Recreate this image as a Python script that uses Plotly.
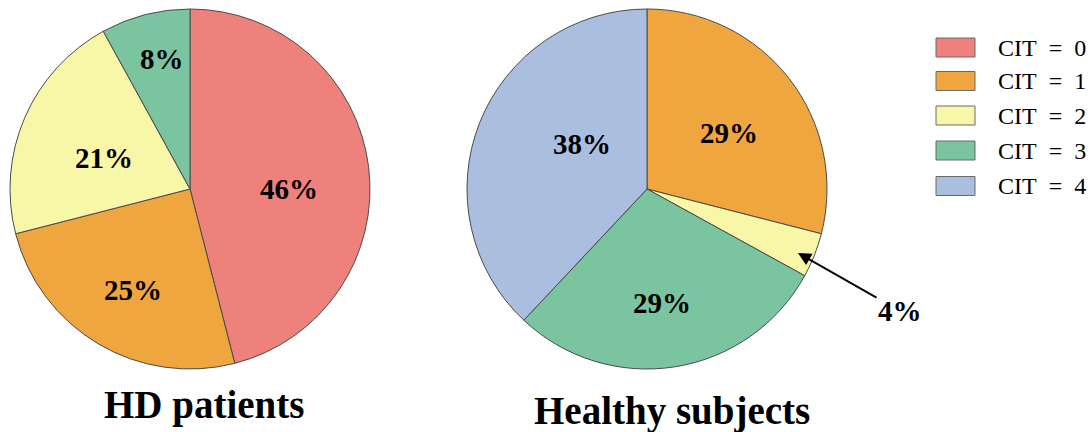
import plotly.graph_objects as go

W, H = 1091, 432
SERIF = "Liberation Serif"

categories = ["CIT = 0", "CIT = 1", "CIT = 2", "CIT = 3", "CIT = 4"]
colors = ["#EF817C", "#F0A63E", "#F8F6A7", "#7BC4A0", "#AABEE0"]

hd_labels = ["CIT = 0", "CIT = 1", "CIT = 2", "CIT = 3"]
hd_values = [46, 25, 21, 8]

healthy_labels = ["CIT = 1", "CIT = 2", "CIT = 3", "CIT = 4"]
healthy_values = [29, 4, 29, 38]

# label placement (pixel positions of the percentage texts, layout only)
hd_label_pos = [(289, 189), (133, 290), (104, 158), (162, 59)]
healthy_label_pos = [(729, 133), None, (662, 303), (582, 144)]

cmap = dict(zip(categories, colors))

fig = go.Figure()

def add_pie(labels, values, x0, x1, label_pos):
    fig.add_trace(go.Pie(
        labels=labels, values=values, sort=False, direction="clockwise", rotation=0,
        marker=dict(colors=[cmap[l] for l in labels], line=dict(color="#4a4a4a", width=1)),
        textinfo="none",
        domain=dict(x=[x0 / W, x1 / W], y=[1 - 369 / H, 1 - 9 / H]),
        showlegend=False, hoverinfo="label+value",
    ))
    for v, pos in zip(values, label_pos):
        if pos is None:
            continue
        fig.add_annotation(x=pos[0] / W, y=1 - pos[1] / H, xref="paper", yref="paper",
                           showarrow=False, text=f"<b>{v}%</b>",
                           xanchor="center", yanchor="middle",
                           font=dict(family=SERIF, size=29, color="black"))

add_pie(hd_labels, hd_values, 10, 370, hd_label_pos)
add_pie(healthy_labels, healthy_values, 467, 827, healthy_label_pos)

# arrow label for the small slice
hx, hy = 798, 253
fig.add_annotation(
    x=hx / W, y=1 - hy / H, xref="paper", yref="paper",
    text=f"<b>{healthy_values[1]}%</b>", showarrow=True,
    ax=102, ay=58, arrowhead=2, arrowsize=1.3, arrowwidth=2, arrowcolor="black",
    font=dict(family=SERIF, size=29, color="black"),
)

# titles
fig.add_annotation(x=204 / W, y=1 - 405 / H, xref="paper", yref="paper", showarrow=False,
                   text="<b>HD patients</b>", font=dict(family=SERIF, size=39, color="black"),
                   xanchor="center", yanchor="middle")
fig.add_annotation(x=672 / W, y=1 - 411 / H, xref="paper", yref="paper", showarrow=False,
                   text="<b>Healthy subjects</b>", font=dict(family=SERIF, size=39, color="black"),
                   xanchor="center", yanchor="middle")

# legend (manual)
row_y = [47.5, 81, 115.5, 150.5, 186]
for i, (cat, col) in enumerate(zip(categories, colors)):
    cy = row_y[i]
    fig.add_shape(type="rect", xref="paper", yref="paper",
                  x0=936 / W, x1=975 / W, y0=1 - (cy - 9.5) / H, y1=1 - (cy + 9.5) / H,
                  fillcolor=col, line=dict(color="#6a6a6a", width=1))
    fig.add_annotation(x=996 / W, y=1 - cy / H, xref="paper", yref="paper", showarrow=False,
                       text=cat.replace(" ", "\u00a0\u00a0"), xanchor="left", yanchor="middle",
                       font=dict(family=SERIF, size=24, color="black"))

fig.update_layout(
    width=W, height=H, margin=dict(l=0, r=0, t=0, b=0),
    paper_bgcolor="white", plot_bgcolor="white",
    font=dict(family=SERIF, color="black"),
)

fig.write_html("out.html")
